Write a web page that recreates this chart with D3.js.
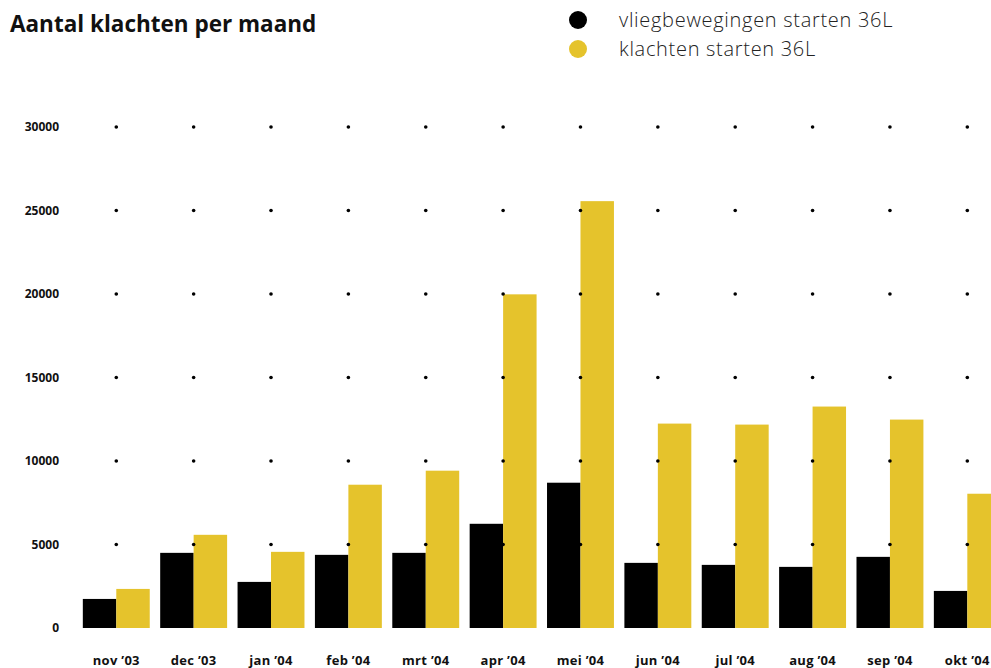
<!DOCTYPE html>
<html>
<head>
<meta charset="utf-8">
<script src="https://cdn.jsdelivr.net/npm/d3@7"></script>
<style>
  body { margin: 0; background: #fff; }
  svg { display: block; font-family: "Open Sans", sans-serif; }
</style>
</head>
<body>
<div id="chart"></div>
<script>
// data
var months = ["nov \u201903", "dec \u201903", "jan \u201904", "feb \u201904", "mrt \u201904", "apr \u201904",
              "mei \u201904", "jun \u201904", "jul \u201904", "aug \u201904", "sep \u201904", "okt \u201904"];
var vliegbewegingen = [1740, 4500, 2760, 4380, 4500, 6240, 8700, 3900, 3780, 3660, 4260, 2220];
var klachten = [2340, 5580, 4560, 8580, 9420, 19980, 25560, 12240, 12180, 13260, 12480, 8040];
var yTicks = [0, 5000, 10000, 15000, 20000, 25000, 30000];
var seriesNames = ["vliegbewegingen starten 36L", "klachten starten 36L"];
var colors = ["#000000", "#E5C32C"];

var width = 991, height = 668;

var svg = d3.select("#chart")
    .append("svg")
    .attr("width", width)
    .attr("height", height);

// title
svg.append("text")
    .attr("x", 10)
    .attr("y", 32)
    .attr("font-size", 22.5)
    .attr("font-weight", "bold")
    .attr("fill", "#111")
    .text("Aantal klachten per maand");

// legend
var legend = svg.selectAll(".legend")
    .data(seriesNames)
    .enter().append("g")
    .attr("transform", function (d, i) { return "translate(578," + (20 + i * 29) + ")"; });
legend.append("circle")
    .attr("r", 9)
    .attr("fill", function (d, i) { return colors[i]; });
legend.append("text")
    .attr("x", 41)
    .attr("dy", "0.35em")
    .attr("font-size", 20)
    .attr("font-weight", 300)
    .attr("letter-spacing", 0.7)
    .attr("fill", "#222")
    .text(function (d) { return d; });

// scales
var x = d3.scaleBand()
    .domain(months)
    .range([77.6, 1006])
    .paddingInner(0.135)
    .paddingOuter(0.0675);

var y = d3.scaleLinear()
    .domain([0, 30000])
    .range([628, 127]);

// y axis labels
var yAxis = svg.append("g")
    .attr("transform", "translate(59,0)")
    .call(d3.axisLeft(y).tickValues(yTicks).tickFormat(d3.format("d")).tickSize(0).tickPadding(0));
yAxis.select(".domain").remove();
yAxis.selectAll("text")
    .attr("font-family", "'Open Sans', sans-serif")
    .attr("font-size", 12)
    .attr("font-weight", "bold")
    .attr("fill", "#111");

// x axis labels
var xAxis = svg.append("g")
    .attr("transform", "translate(0,656)")
    .call(d3.axisBottom(x).tickSize(0).tickPadding(0));
xAxis.select(".domain").remove();
xAxis.selectAll("text")
    .attr("font-family", "'Open Sans', sans-serif")
    .attr("font-size", 13)
    .attr("font-weight", "bold")
    .attr("letter-spacing", 0.3)
    .attr("fill", "#111");

// bars
var half = x.bandwidth() / 2;
svg.append("g").selectAll("rect")
    .data(vliegbewegingen)
    .enter().append("rect")
    .attr("x", function (d, i) { return x(months[i]); })
    .attr("y", function (d) { return y(d); })
    .attr("width", half)
    .attr("height", function (d) { return y(0) - y(d); })
    .attr("fill", colors[0]);

svg.append("g").selectAll("rect")
    .data(klachten)
    .enter().append("rect")
    .attr("x", function (d, i) { return x(months[i]) + half; })
    .attr("y", function (d) { return y(d); })
    .attr("width", half)
    .attr("height", function (d) { return y(0) - y(d); })
    .attr("fill", colors[1]);

// dotted grid: one dot per category per tick
var dots = [];
months.forEach(function (m) {
  yTicks.slice(1).forEach(function (t) { dots.push({ m: m, t: t }); });
});
svg.append("g").selectAll("circle")
    .data(dots)
    .enter().append("circle")
    .attr("cx", function (d) { return x(d.m) + half; })
    .attr("cy", function (d) { return y(d.t); })
    .attr("r", 1.8)
    .attr("fill", "#000");
</script>
</body>
</html>
